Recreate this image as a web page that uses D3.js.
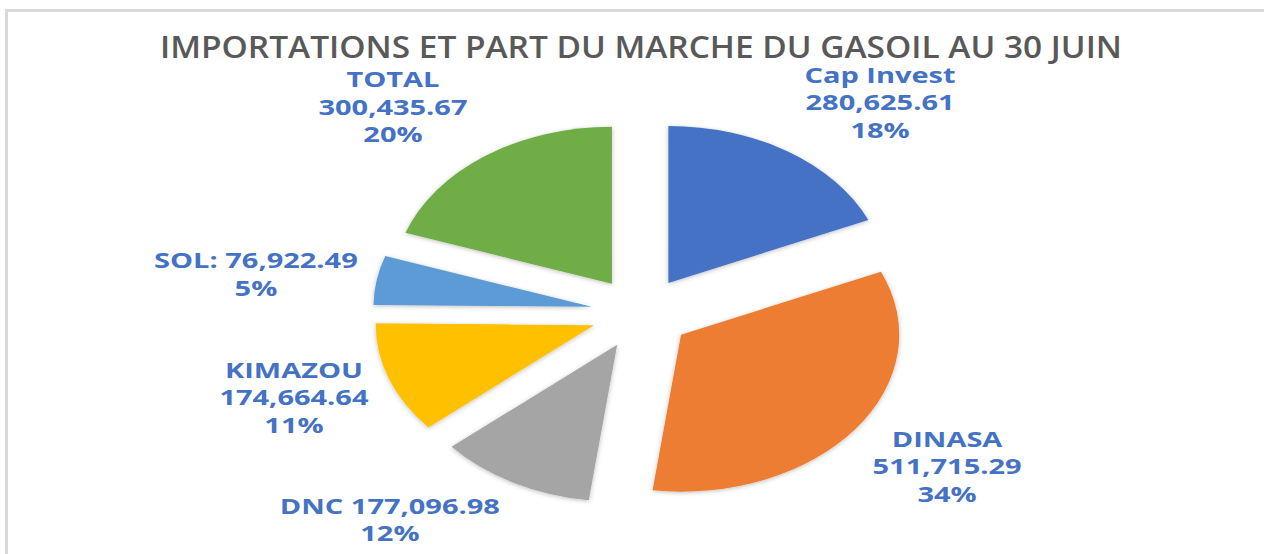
<!DOCTYPE html>
<html>
<head>
<meta charset="utf-8">
<script src="https://cdn.jsdelivr.net/npm/d3@7"></script>
<style>
  body { margin: 0; background: #fff; }
  svg { display: block; }
  .lbl { font-family: "Open Sans", sans-serif; font-weight: 700; fill: #4472C4; }
  .title { font-family: "Open Sans", sans-serif; font-weight: 600; fill: #595959; }
</style>
</head>
<body>
<svg id="chart" width="1264" height="554"></svg>
<script>
// Data
var names = ['Cap Invest', 'DINASA', 'DNC', 'KIMAZOU', 'SOL', 'TOTAL'];
var values = [280625.61, 511715.29, 177096.98, 174664.64, 76922.49, 300435.67];
var colors = ['#4472C4', '#ED7D31', '#A5A5A5', '#FFC000', '#5B9BD5', '#70AD47'];
// how each label is laid out: name on own line or "name: value" on one line
var labelStyles = ['stack', 'stack', 'inline', 'stack', 'colon', 'stack'];

var W = 1264, H = 554;
var svg = d3.select('#chart');

// frame
svg.append('path').attr('d', 'M6.5,554 L6.5,10.5 L1264,10.5')
    .attr('fill', 'none').attr('stroke', '#d9d9d9').attr('stroke-width', 3);

// title
svg.append('text').attr('class', 'title')
    .attr('x', 641).attr('y', 58).attr('text-anchor', 'middle')
    .style('font-size', '30px').attr('textLength', 962).attr('lengthAdjust', 'spacingAndGlyphs')
    .text('IMPORTATIONS ET PART DU MARCHE DU GASOIL AU 30 JUIN');

var defs = svg.append('defs');
var f = defs.append('filter').attr('id', 'shadow').attr('x', '-20%').attr('y', '-20%')
    .attr('width', '140%').attr('height', '140%');
f.append('feDropShadow').attr('dx', 0).attr('dy', 1).attr('stdDeviation', 2)
    .attr('flood-color', '#000').attr('flood-opacity', 0.25);

var R = 157, sx = 1.39, explode = 36;
var cx = 641, cy = 313;

var total = d3.sum(values);
var pie = d3.pie().sort(null).value(function(d) { return d; });
var arcs = pie(values);
var arc = d3.arc().innerRadius(0).outerRadius(R);

var g = svg.append('g')
    .attr('transform', 'translate(' + cx + ',' + cy + ') scale(' + sx + ',1)');

g.selectAll('path').data(arcs).enter().append('path')
    .attr('d', arc)
    .attr('fill', function(d, i) { return colors[i]; })
    .attr('filter', 'url(#shadow)')
    .attr('transform', function(d) {
        var a = (d.startAngle + d.endAngle) / 2;
        return 'translate(' + (explode * Math.sin(a)) + ',' + (-explode * Math.cos(a)) + ')';
    });

// labels placed on rays from the centre, outside the slices
var fmt = d3.format(',.2f');
var pct = function(v) { return Math.round(v / total * 100) + '%'; };
var labelR = [1.733, 1.708, 1.747, 1.678, 1.782, 1.736];  // radial distance as multiple of R
var labelA = [39.2, 124.8, 221.2, 251.4, 278, 319.1];      // degrees, clockwise from top

arcs.forEach(function(d, i) {
    var a = labelA[i] * Math.PI / 180;
    var x = cx + sx * R * labelR[i] * Math.sin(a);
    var y = cy - R * labelR[i] * Math.cos(a);
    var lines;
    if (labelStyles[i] === 'stack') lines = [names[i], fmt(values[i]), pct(values[i])];
    else if (labelStyles[i] === 'colon') lines = [names[i] + ': ' + fmt(values[i]), pct(values[i])];
    else lines = [names[i] + ' ' + fmt(values[i]), pct(values[i])];
    var lh = 27.5;
    var y0 = y - (lines.length - 1) * lh / 2;
    var t = svg.append('g').attr('transform', 'translate(' + x + ',' + y0 + ') scale(1.38,1)');
    lines.forEach(function(s, k) {
        t.append('text').attr('class', 'lbl')
            .attr('x', 0).attr('y', k * lh + 8)
            .attr('text-anchor', 'middle')
            .style('font-size', '21px')
            .text(s);
    });
});
</script>
</body>
</html>
